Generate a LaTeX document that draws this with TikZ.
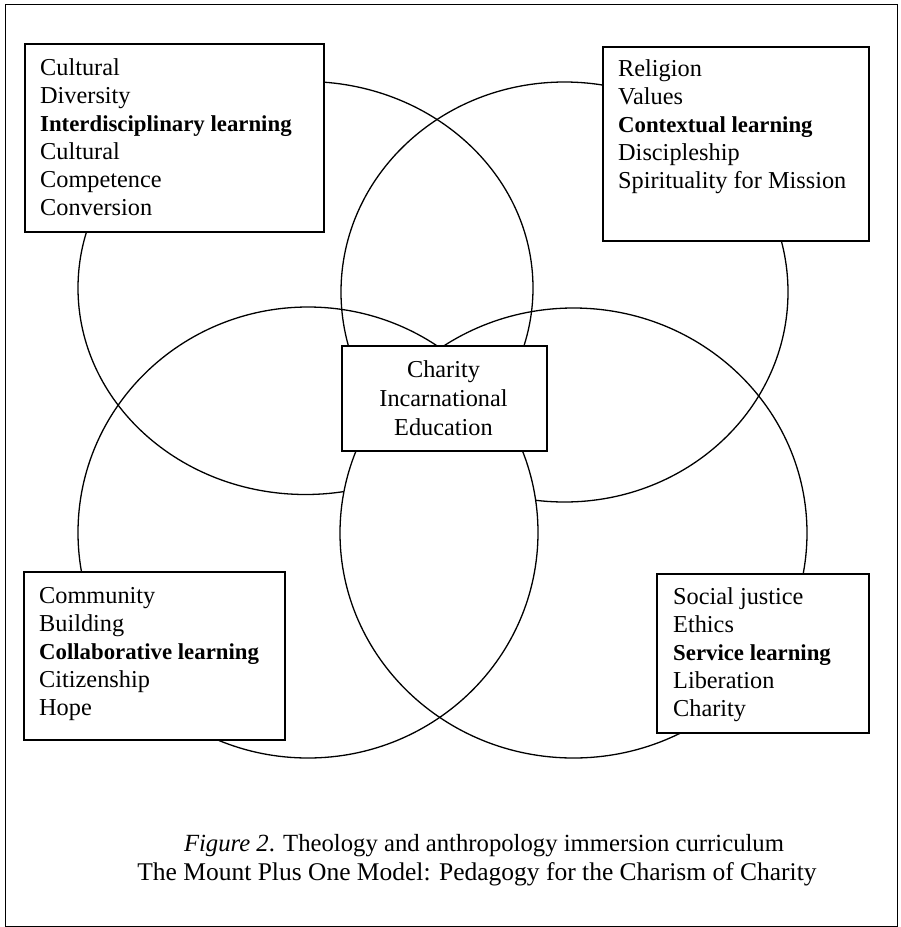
\documentclass[tikz,border=0pt]{standalone}
\usepackage{fontspec}
\setmainfont{Liberation Serif}
\begin{document}
\begin{tikzpicture}[x=1pt,y=-1pt,
  ell/.style={draw=black, line width=1.3pt},
  box/.style={draw=black, fill=white, line width=1.5pt, inner sep=0pt, anchor=north west},
  reg/.style={anchor=base west, inner sep=0pt, font=\fontsize{24.3}{28}\selectfont},
  bld/.style={anchor=base west, inner sep=0pt, font=\fontsize{22.8}{28}\selectfont\bfseries},
  ctxt/.style={anchor=base, inner sep=0pt, font=\fontsize{24.3}{28}\selectfont},
  captxt/.style={anchor=base, inner sep=0pt, font=\fontsize{25.5}{28}\selectfont},
]
\useasboundingbox (0,0) rectangle (901,927);
\node[box, fill=none, line width=1.2pt, minimum width=892pt, minimum height=922pt] (frame) at (5,4) {};

% top ellipses
\draw[ell] (305.5,288) ellipse [x radius=227.5pt, y radius=206.5pt];
\draw[ell] (564.5,292) ellipse [x radius=223.5pt, y radius=210pt];
% blank the lower lens
\begin{scope}
  \clip (308,532.5) ellipse [x radius=230pt, y radius=225.5pt];
  \fill[white] (573.5,533) ellipse [x radius=233.5pt, y radius=225pt];
\end{scope}
% bottom ellipses
\draw[ell] (308,532.5) ellipse [x radius=230pt, y radius=225.5pt];
\draw[ell] (573.5,533) ellipse [x radius=233.5pt, y radius=225pt];

% boxes
\node[box, minimum width=299pt, minimum height=188pt] (tl) at (24,43) {};
\node[box, minimum width=266pt, minimum height=194pt] (tr) at (602,46) {};
\node[box, minimum width=261pt, minimum height=168pt] (bl) at (23,571) {};
\node[box, minimum width=212pt, minimum height=159pt] (br) at (656,573) {};
\node[box, minimum width=205pt, minimum height=105pt] (ctr) at (341,345) {};

% top-left text
\node[reg] (tl1) at (40,75) {Cultural};
\node[reg] (tl2) at (40,103) {Diversity};
\node[bld] (tl3) at (40,131) {Interdisciplinary learning};
\node[reg] (tl4) at (40,159) {Cultural};
\node[reg] (tl5) at (40,187) {Competence};
\node[reg] (tl6) at (40,215) {Conversion};

% top-right text
\node[reg] (tr1) at (618,76) {Religion};
\node[reg] (tr2) at (618,104) {Values};
\node[bld] (tr3) at (618,132) {Contextual learning};
\node[reg] (tr4) at (618,160) {Discipleship};
\node[reg] (tr5) at (618,188) {Spirituality for Mission};

% bottom-left text
\node[reg] (bl1) at (39,603) {Community};
\node[reg] (bl2) at (39,631) {Building};
\node[bld] (bl3) at (39,659) {Collaborative learning};
\node[reg] (bl4) at (39,687) {Citizenship};
\node[reg] (bl5) at (39,715) {Hope};

% bottom-right text
\node[reg] (br1) at (673,604) {Social justice};
\node[reg] (br2) at (673,632) {Ethics};
\node[bld] (br3) at (673,660) {Service learning};
\node[reg] (br4) at (673,688) {Liberation};
\node[reg] (br5) at (673,716) {Charity};

% centre text
\node[ctxt] (c1) at (443.5,377) {Charity};
\node[ctxt] (c2) at (443.5,406) {Incarnational};
\node[ctxt] (c3) at (443.5,435) {Education};

% caption
\node[captxt, font=\fontsize{24.7}{28}\selectfont] (cap1) at (484,851) {\textit{Figure 2}. Theology and anthropology immersion curriculum};
\node[captxt] (cap2) at (477,880) {The Mount Plus One Model: Pedagogy for the Charism of Charity};
\end{tikzpicture}
\end{document}
